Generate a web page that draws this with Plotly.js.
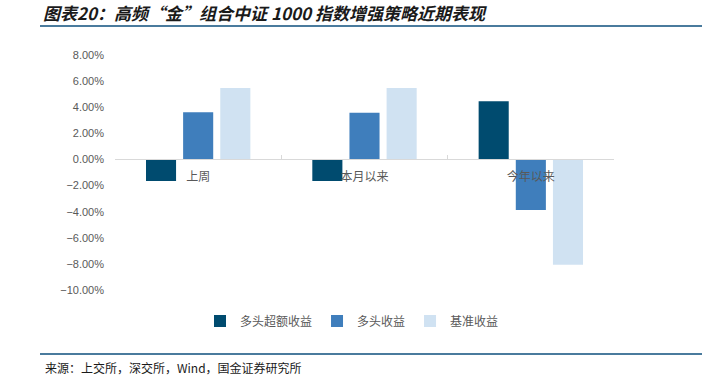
<!DOCTYPE html>
<html>
<head>
<meta charset="utf-8">
<script src="https://cdn.plot.ly/plotly-3.0.1.min.js"></script>
<style>html,body{margin:0;padding:0;background:#fff;}#chart{width:723px;height:386px;}</style>
</head>
<body>
<div id="chart"></div>
<script>
const categories = ["上周", "本月以来", "今年以来"];
const seriesNames = ["多头超额收益", "多头收益", "基准收益"];
const excessReturn = [-0.0165, -0.0165, 0.0445];
const longReturn = [0.0361, 0.0358, -0.0388];
const benchmarkReturn = [0.0547, 0.0547, -0.0807];
const colors = ["#004B6F", "#3F7EBC", "#D0E2F2"];
const titleText = "图表20：高频“金”组合中证 1000 指数增强策略近期表现";
const sourceText = "来源：上交所，深交所，Wind，国金证券研究所";

const fontFam = "Liberation Sans, Arial, Noto Sans CJK SC, sans-serif";
const cjk = "Noto Sans CJK SC, sans-serif";

const allSeries = [excessReturn, longReturn, benchmarkReturn];
const traces = allSeries.map((vals, i) => ({
  type: "bar",
  name: seriesNames[i],
  x: categories,
  y: vals,
  marker: {color: colors[i], line: {width: 0}},
  hoverinfo: "none"
}));

const L = 115, R = 109, T = 55, B = 96;
const W = 723 - L - R, H = 386 - T - B;
const px = v => (v - L) / W;
const py = v => (386 - B - v) / H;

const layout = {
  width: 723, height: 386,
  margin: {l: L, r: R, t: T, b: B, pad: 0},
  paper_bgcolor: "#fff", plot_bgcolor: "#fff",
  barmode: "group",
  bargap: 0.33,
  bargroupgap: 0.19,
  showlegend: true,
  legend: {
    orientation: "h", x: px(200), xanchor: "left", y: py(321), yanchor: "middle",
    font: {family: cjk, size: 12, color: "#595959"},
    itemwidth: 30, tracegroupgap: 0, traceorder: "normal"
  },
  xaxis: {
    type: "category",
    anchor: "free", position: 10 / 18,
    showline: true, linecolor: "#d9d9d9", linewidth: 1,
    ticks: "inside", tickson: "boundaries", ticklen: 4, tickcolor: "#d9d9d9",
    showgrid: false, zeroline: false,
    tickfont: {family: cjk, size: 12, color: "#595959"},
    ticklabelstandoff: 6
  },
  yaxis: {
    range: [-0.10, 0.08],
    tickvals: [-0.10, -0.08, -0.06, -0.04, -0.02, 0, 0.02, 0.04, 0.06, 0.08],
    tickformat: ".2%",
    showgrid: false, zeroline: false, showline: false, ticks: "",
    tickfont: {family: fontFam, size: 11, color: "#595959"},
    ticklabelstandoff: 10
  },
  title: {
    text: "<b><i>" + titleText + "</i></b>",
    x: 43 / 723, xanchor: "left", xref: "container",
    y: 1 - 14 / 386, yanchor: "middle", yref: "container",
    font: {family: cjk, size: 17, color: "#1a1a1a"}
  },
  shapes: [
    {type: "line", xref: "paper", yref: "paper", x0: px(40), x1: px(702), y0: py(26), y1: py(26), line: {color: "#4A7B9D", width: 2}},
    {type: "line", xref: "paper", yref: "paper", x0: px(40), x1: px(702), y0: py(354), y1: py(354), line: {color: "#4A7B9D", width: 2}}
  ],
  annotations: [
    {text: sourceText, xref: "paper", yref: "paper", x: px(43), y: py(367), xanchor: "left", yanchor: "middle", showarrow: false,
     font: {family: cjk, size: 12, color: "#1a1a1a"}}
  ]
};

Plotly.newPlot("chart", traces, layout, {displayModeBar: false, staticPlot: true});
</script>
</body>
</html>
